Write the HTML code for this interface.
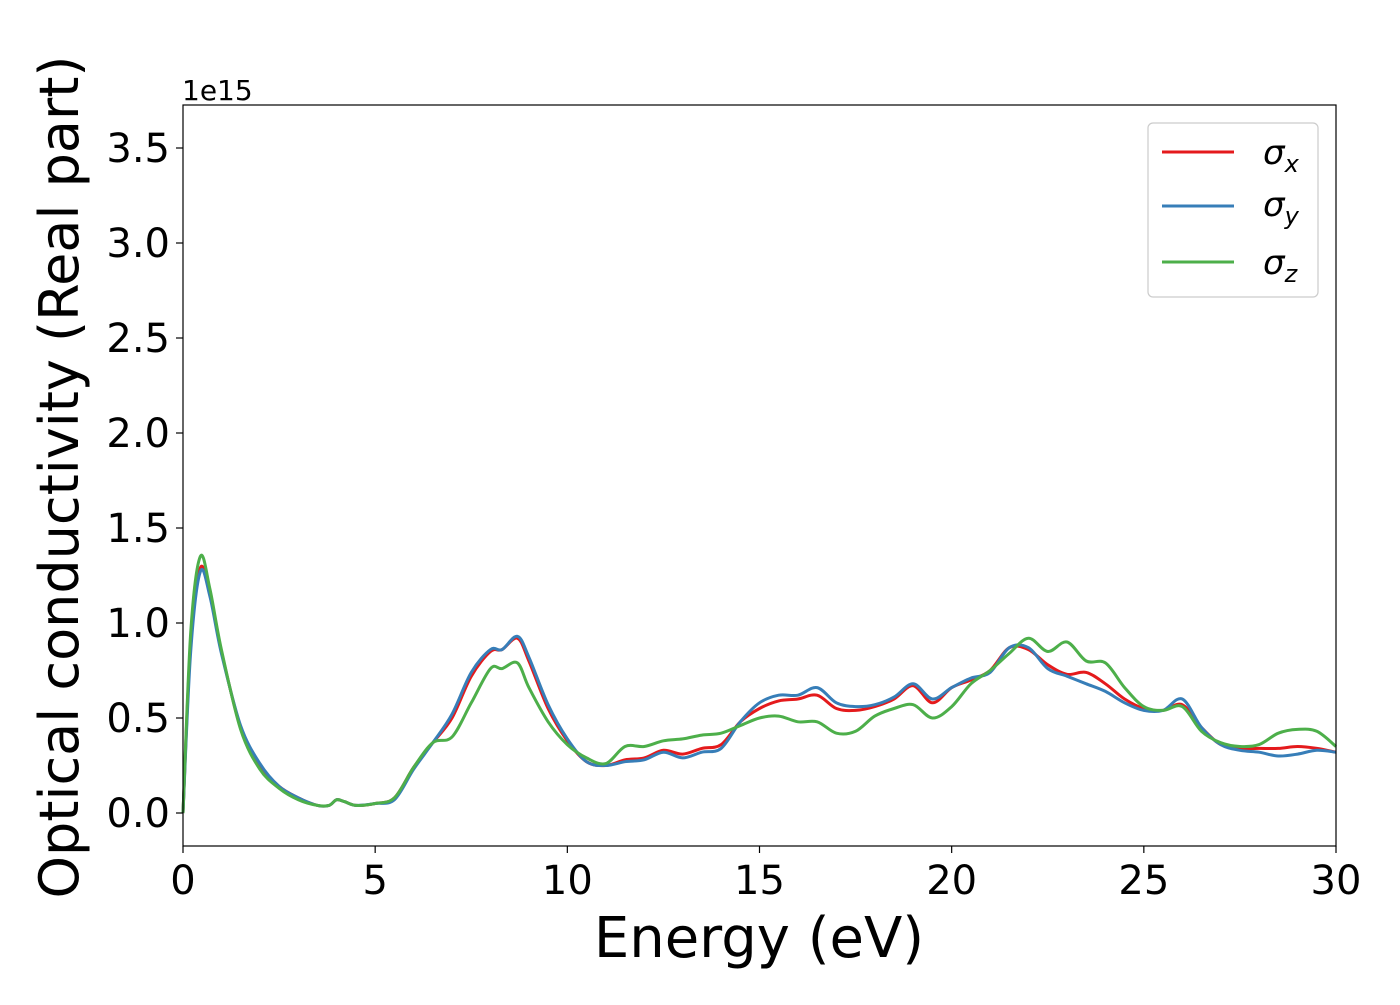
<!DOCTYPE html>
<html><head><meta charset="utf-8"><style>
body{margin:0;background:#fff;}
svg text{font-family:"DejaVu Sans","Liberation Sans",sans-serif;fill:#000;}
</style></head><body>
<svg id="chart" width="1400" height="1000" viewBox="0 0 1400 1000" xmlns="http://www.w3.org/2000/svg">
<rect width="1400" height="1000" fill="#fff"/>
<g id="plot"></g>
<rect x="183" y="105" width="1153" height="741" fill="none" stroke="#000" stroke-width="1.2"/>
<g id="axes"></g>
<text x="182" y="100" font-size="28">1e15</text>
<text x="759" y="957" font-size="56" text-anchor="middle">Energy (eV)</text>
<text transform="translate(78,477) rotate(-90)" font-size="54" text-anchor="middle">Optical conductivity (Real part)</text>
<g>
<rect x="1148" y="123" width="170" height="174" rx="5" fill="#fff" stroke="#ccc" stroke-width="1.2"/>
<line x1="1162" y1="152" x2="1234" y2="152" stroke="#e41a1c" stroke-width="3"/>
<line x1="1162" y1="206" x2="1234" y2="206" stroke="#377eb8" stroke-width="3"/>
<line x1="1162" y1="262" x2="1234" y2="262" stroke="#4daf4a" stroke-width="3"/>
<text x="1263" y="164" font-size="34" font-style="italic">σ<tspan font-size="24" dy="8">x</tspan></text>
<text x="1263" y="216" font-size="34" font-style="italic">σ<tspan font-size="24" dy="8">y</tspan></text>
<text x="1263" y="274" font-size="34" font-style="italic">σ<tspan font-size="24" dy="8">z</tspan></text>
</g>
</svg>
<script>
const energy=[0,0.2,0.45,0.7,1.0,1.5,2,2.5,3,3.5,3.8,4.0,4.2,4.5,5,5.5,6,6.5,7,7.5,8,8.3,8.7,9,9.5,10,10.5,11,11.5,12,12.5,13,13.5,14,14.5,15,15.5,16,16.5,17,17.5,18,18.5,19,19.5,20,20.5,21,21.5,22,22.5,23,23.5,24,24.5,25,25.5,26,26.5,27,27.5,28,28.5,29,29.5,30];
const sigmaX=[0,0.9,1.29,1.15,0.85,0.45,0.25,0.14,0.08,0.04,0.04,0.07,0.06,0.04,0.05,0.08,0.24,0.37,0.5,0.72,0.85,0.86,0.92,0.8,0.55,0.38,0.27,0.25,0.28,0.29,0.33,0.31,0.34,0.36,0.48,0.55,0.59,0.6,0.62,0.55,0.54,0.56,0.6,0.67,0.58,0.66,0.7,0.75,0.87,0.86,0.78,0.73,0.74,0.68,0.6,0.55,0.54,0.57,0.45,0.36,0.34,0.34,0.34,0.35,0.34,0.32];
const sigmaY=[0,0.85,1.27,1.14,0.84,0.46,0.26,0.14,0.08,0.04,0.04,0.07,0.06,0.04,0.05,0.07,0.23,0.37,0.52,0.74,0.86,0.86,0.93,0.82,0.57,0.39,0.27,0.25,0.27,0.28,0.32,0.29,0.32,0.34,0.48,0.58,0.62,0.62,0.66,0.58,0.56,0.57,0.61,0.68,0.6,0.66,0.71,0.74,0.87,0.87,0.76,0.72,0.68,0.64,0.58,0.54,0.54,0.6,0.45,0.36,0.33,0.32,0.30,0.31,0.33,0.32];
const sigmaZ=[0,0.95,1.35,1.18,0.86,0.44,0.23,0.13,0.07,0.04,0.04,0.07,0.06,0.04,0.05,0.08,0.24,0.37,0.4,0.58,0.76,0.76,0.79,0.66,0.48,0.36,0.29,0.26,0.35,0.35,0.38,0.39,0.41,0.42,0.46,0.5,0.51,0.48,0.48,0.42,0.43,0.51,0.55,0.57,0.5,0.56,0.68,0.75,0.84,0.92,0.85,0.9,0.8,0.79,0.66,0.56,0.54,0.56,0.43,0.37,0.35,0.36,0.42,0.44,0.43,0.35];
const xTicks=[0,5,10,15,20,25,30];
const yTicks=[0,0.5,1.0,1.5,2.0,2.5,3.0,3.5];
const yTickLabels=["0.0","0.5","1.0","1.5","2.0","2.5","3.0","3.5"];
const NS='http://www.w3.org/2000/svg';
function xScale(e){return 183+e*(1153/30);}
function yScale(v){return 813-v*190;}
const axes=document.getElementById('axes');
xTicks.forEach(t=>{
  const l=document.createElementNS(NS,'line');
  
  
  l.setAttribute('x1',xScale(t));l.setAttribute('x2',xScale(t));l.setAttribute('y1',846);l.setAttribute('y2',853);l.setAttribute('stroke','#000');l.setAttribute('stroke-width','1.2');
  axes.appendChild(l);
  const tx=document.createElementNS(NS,'text');
  
  
  tx.setAttribute('x',xScale(t));tx.setAttribute('y',894);tx.setAttribute('font-size','40');tx.setAttribute('text-anchor','middle');
  tx.textContent=t;axes.appendChild(tx);
});
yTicks.forEach((t,i)=>{
  const l=document.createElementNS(NS,'line');
  
  
  l.setAttribute('x1',176);l.setAttribute('x2',183);l.setAttribute('y1',yScale(t));l.setAttribute('y2',yScale(t));l.setAttribute('stroke','#000');l.setAttribute('stroke-width','1.2');
  axes.appendChild(l);
  const tx=document.createElementNS(NS,'text');
  
  
  tx.setAttribute('x',170);tx.setAttribute('y',yScale(t)+14);tx.setAttribute('font-size','40');tx.setAttribute('text-anchor','end');
  tx.textContent=yTickLabels[i];axes.appendChild(tx);
});
function pathFor(vals){
  const p=energy.map((e,i)=>[xScale(e),yScale(vals[i])]);
  let d='M'+p[0][0]+','+p[0][1];
  for(let i=0;i<p.length-1;i++){
    const p0=p[Math.max(0,i-1)],p1=p[i],p2=p[i+1],p3=p[Math.min(p.length-1,i+2)];
    const c1=[p1[0]+(p2[0]-p0[0])/6,p1[1]+(p2[1]-p0[1])/6];
    const c2=[p2[0]-(p3[0]-p1[0])/6,p2[1]-(p3[1]-p1[1])/6];
    d+=' C'+c1[0].toFixed(1)+','+c1[1].toFixed(1)+' '+c2[0].toFixed(1)+','+c2[1].toFixed(1)+' '+p2[0].toFixed(1)+','+p2[1].toFixed(1);
  }
  return d;
}
const plot=document.getElementById('plot');
[[sigmaX,'#e41a1c','series-sigma-x'],[sigmaY,'#377eb8','series-sigma-y'],[sigmaZ,'#4daf4a','series-sigma-z']].forEach(s=>{
  const path=document.createElementNS(NS,'path');
  
  
  path.setAttribute('d',pathFor(s[0]));path.setAttribute('fill','none');path.setAttribute('stroke',s[1]);path.setAttribute('stroke-width','3');path.setAttribute('stroke-linejoin','round');
  plot.appendChild(path);
});
</script>
</body></html>
